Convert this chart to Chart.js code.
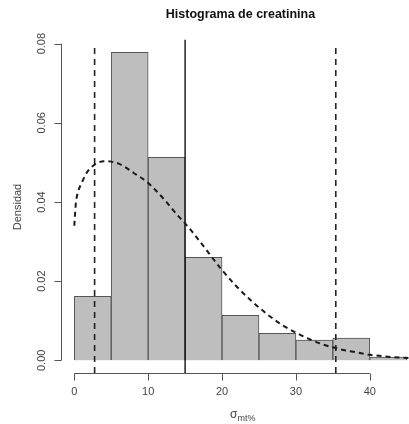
<!DOCTYPE html>
<html>
<head>
<meta charset="utf-8">
<title>Histograma de creatinina</title>
<script src="https://cdn.jsdelivr.net/npm/chart.js@4/dist/chart.umd.min.js"></script>
<style>
  html, body { margin: 0; padding: 0; background: #fff; overflow: hidden; }
  #histChart { display: block; }
</style>
</head>
<body>
<canvas id="histChart" width="430" height="424"></canvas>
<script>
// bins of width 5 (centre of each bin) and density of each bin
const binCenters = [2.5, 7.5, 12.5, 17.5, 22.5, 27.5, 32.5, 37.5, 42.5];
const binDensity = [0.0162, 0.0778, 0.0513, 0.0260, 0.0114, 0.0068, 0.0051, 0.0056, 0.0008];

// fitted density curve
const curveX = [0, 0.2, 0.5, 1, 1.5, 2, 3, 4, 5, 6, 7, 8, 9, 10, 12, 14, 15, 16, 18, 20, 22, 24, 26, 28, 30, 32, 34, 36, 38, 40, 42, 44, 46];
const curveY = [0.0340, 0.0395, 0.0425, 0.0448, 0.0468, 0.0482, 0.0497, 0.0503, 0.0502, 0.0497, 0.0487, 0.0474, 0.0462, 0.0448, 0.0410, 0.0366, 0.0346, 0.0324, 0.0276, 0.0228, 0.0186, 0.0150, 0.0118, 0.0091, 0.0070, 0.0052, 0.0038, 0.0028, 0.0021, 0.0014, 0.0010, 0.0007, 0.0005];

// reference lines: lower limit, mean, upper limit
const lowerLimit = 2.75;
const meanValue = 15;
const upperLimit = 35.4;

// axes
const xTicks = [0, 10, 20, 30, 40];
const yTicks = [0, 0.02, 0.04, 0.06, 0.08];
const yTickLabels = ["0.00", "0.02", "0.04", "0.06", "0.08"];

const xMin = -1.8, xMax = 46.8;
const yMin = -0.0032, yMax = 0.0832;

function vline(x, top) {
    return [{ x: x, y: yMin }, { x: x, y: top }];
}

// draws R style axes, title and labels
const rAxes = {
    id: "rAxes",
    afterDraw(chart) {
        const ctx = chart.ctx;
        const xs = chart.scales.x;
        const ys = chart.scales.y;
        const area = chart.chartArea;
        const font = '"Liberation Sans", Arial, sans-serif';

        ctx.save();
        ctx.strokeStyle = "#555";
        ctx.fillStyle = "#444";
        ctx.lineWidth = 1;

        // y axis
        const ax = Math.round(area.left) + 0.5;
        ctx.beginPath();
        ctx.moveTo(ax, ys.getPixelForValue(yTicks[0]));
        ctx.lineTo(ax, ys.getPixelForValue(yTicks[yTicks.length - 1]));
        yTicks.forEach(v => {
            const py = Math.round(ys.getPixelForValue(v)) + 0.5;
            ctx.moveTo(ax, py);
            ctx.lineTo(ax - 7, py);
        });
        ctx.stroke();

        ctx.font = "11px " + font;
        ctx.textAlign = "center";
        ctx.textBaseline = "middle";
        yTicks.forEach((v, i) => {
            ctx.save();
            ctx.translate(42, ys.getPixelForValue(v));
            ctx.rotate(-Math.PI / 2);
            ctx.fillText(yTickLabels[i], 0, 0);
            ctx.restore();
        });

        // x axis
        const ay = Math.round(area.bottom) + 0.5;
        ctx.beginPath();
        ctx.moveTo(xs.getPixelForValue(xTicks[0]), ay);
        ctx.lineTo(xs.getPixelForValue(xTicks[xTicks.length - 1]), ay);
        xTicks.forEach(v => {
            const px = Math.round(xs.getPixelForValue(v)) + 0.5;
            ctx.moveTo(px, ay);
            ctx.lineTo(px, ay + 7);
        });
        ctx.stroke();

        xTicks.forEach(v => {
            ctx.fillText(String(v), xs.getPixelForValue(v), 392);
        });

        // axis titles
        const cx = (area.left + area.right) / 2;
        ctx.save();
        ctx.translate(18, (area.top + area.bottom) / 2 + 5);
        ctx.rotate(-Math.PI / 2);
        ctx.fillText("Densidad", 0, 0);
        ctx.restore();

        ctx.font = "12px " + font;
        ctx.textAlign = "right";
        ctx.fillText("σ", cx - 3, 415);
        ctx.font = "9px " + font;
        ctx.textAlign = "left";
        ctx.fillText("mt%", cx - 3, 419);

        // title
        ctx.fillStyle = "#111";
        ctx.font = "bold 12.5px " + font;
        ctx.textAlign = "center";
        ctx.fillText("Histograma de creatinina", cx, 15);
        ctx.restore();
    }
};

new Chart(document.getElementById("histChart").getContext("2d"), {
    type: "bar",
    data: {
        datasets: [
            {
                type: "line",
                data: curveX.map((x, i) => ({ x: x, y: curveY[i] })),
                borderColor: "#1a1a1a",
                borderWidth: 2,
                borderDash: [5, 4],
                pointRadius: 0,
                fill: false,
                cubicInterpolationMode: "monotone",
                order: 0
            },
            {
                type: "line",
                data: vline(lowerLimit, 0.08),
                borderColor: "#222",
                borderWidth: 1.6,
                borderDash: [6, 5],
                pointRadius: 0,
                order: 1
            },
            {
                type: "line",
                data: vline(upperLimit, 0.08),
                borderColor: "#222",
                borderWidth: 1.6,
                borderDash: [6, 5],
                pointRadius: 0,
                order: 1
            },
            {
                type: "line",
                data: vline(meanValue, 0.081),
                borderColor: "#111",
                borderWidth: 1.4,
                pointRadius: 0,
                order: 1
            },
            {
                type: "bar",
                data: binCenters.map((x, i) => ({ x: x, y: binDensity[i] })),
                backgroundColor: "#bebebe",
                borderColor: "#555",
                borderWidth: 1,
                barPercentage: 1,
                categoryPercentage: 1,
                order: 2
            }
        ]
    },
    options: {
        responsive: false,
        animation: false,
        layout: { padding: { left: 61, right: 10, top: 31, bottom: 51 } },
        scales: {
            x: { type: "linear", min: xMin, max: xMax, offset: false, display: false },
            y: { type: "linear", min: yMin, max: yMax, display: false }
        },
        plugins: {
            legend: { display: false },
            tooltip: { enabled: false }
        }
    },
    plugins: [rAxes]
});
</script>
</body>
</html>
